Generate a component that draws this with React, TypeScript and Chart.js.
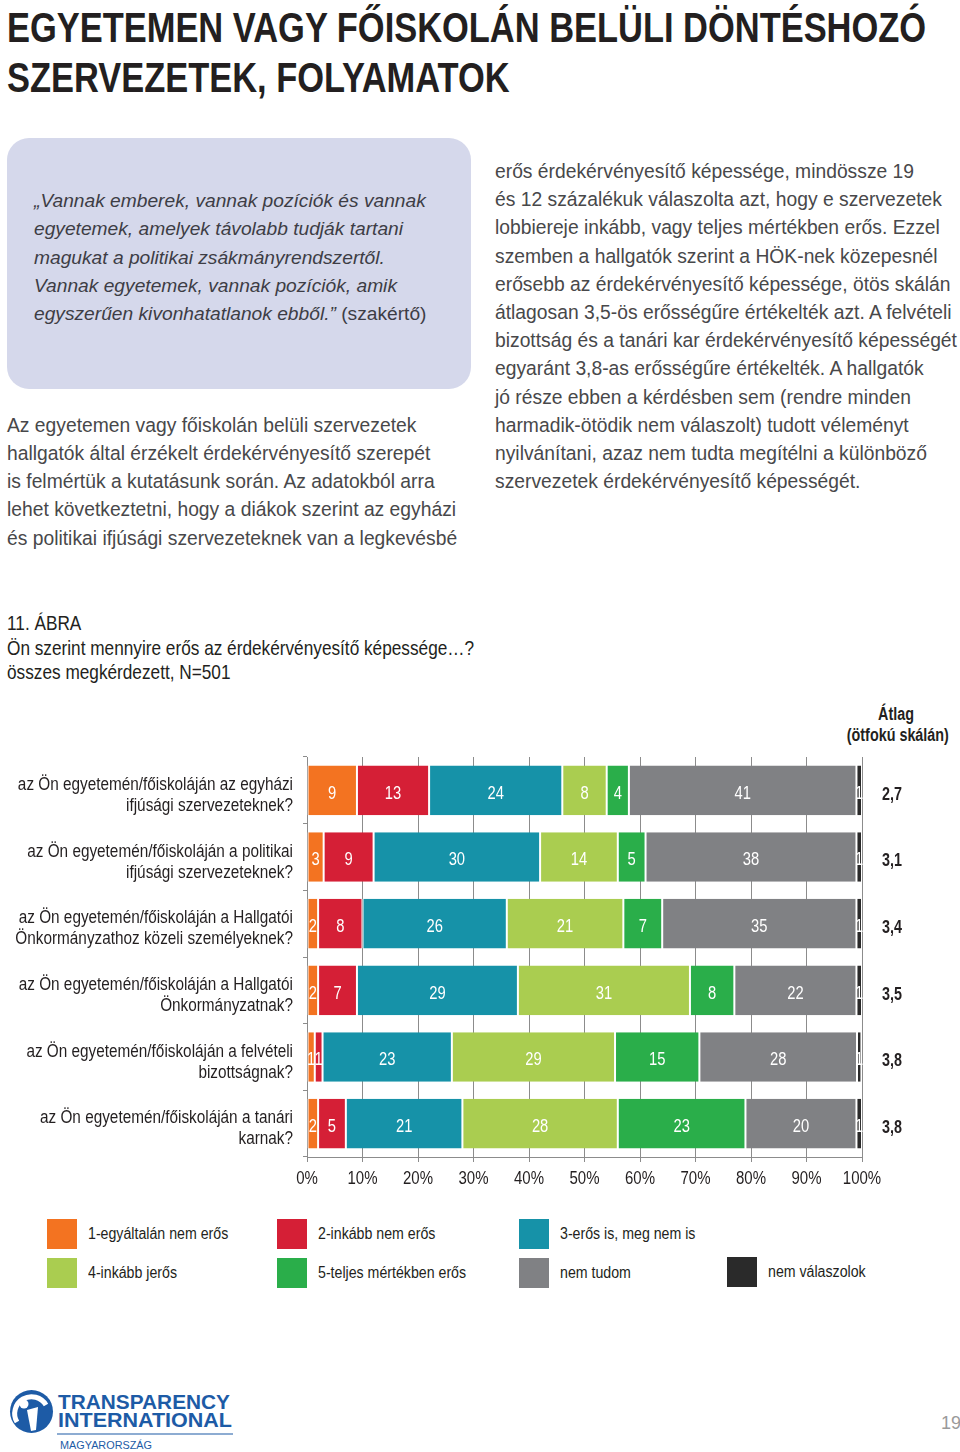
import React, { useEffect, useRef } from 'react';
import { Chart, registerables } from 'chart.js';

Chart.register(...registerables);

const SANS = '"Liberation Sans", Arial, Helvetica, sans-serif';
const NARROW_SCALE = 0.82;

// ---- chart data ----
const categories: string[][] = [
  ['az Ön egyetemén/főiskoláján az egyházi', 'ifjúsági szervezeteknek?'],
  ['az Ön egyetemén/főiskoláján a politikai', 'ifjúsági szervezeteknek?'],
  ['az Ön egyetemén/főiskoláján a Hallgatói', 'Önkormányzathoz közeli személyeknek?'],
  ['az Ön egyetemén/főiskoláján a Hallgatói', 'Önkormányzatnak?'],
  ['az Ön egyetemén/főiskoláján a felvételi', 'bizottságnak?'],
  ['az Ön egyetemén/főiskoláján a tanári', 'karnak?'],
];
const seriesNames = [
  '1-egyáltalán nem erős',
  '2-inkább nem erős',
  '3-erős is, meg nem is',
  '4-inkább jerős',
  '5-teljes mértékben erős',
  'nem tudom',
  'nem válaszolok',
];
const seriesColors = ['#f37321', '#d51f36', '#1692a8', '#aacd50', '#2aae4a', '#808184', '#2a2a2a'];
const s1 = [9, 3, 2, 2, 1.4, 2];
const s2 = [13, 9, 8, 7, 1.4, 5];
const s3 = [24, 30, 26, 29, 23.3, 21];
const s4 = [8, 14, 21, 31, 29.4, 28];
const s5 = [4, 5, 7, 8, 15.2, 23];
const s6 = [41, 38, 35, 22, 28.4, 20];
const s7 = [1, 1, 1, 1, 0.8, 1];
const seriesValues = [s1, s2, s3, s4, s5, s6, s7];
const averages = ['2,7', '3,1', '3,4', '3,5', '3,8', '3,8'];
const xTickValues = [0, 10, 20, 30, 40, 50, 60, 70, 80, 90, 100];
const xTickLabels = ['0%', '10%', '20%', '30%', '40%', '50%', '60%', '70%', '80%', '90%', '100%'];

// ---- page text ----
const titleLines = ['EGYETEMEN VAGY FŐISKOLÁN BELÜLI DÖNTÉSHOZÓ', 'SZERVEZETEK, FOLYAMATOK'];
const quoteLines = [
  '„Vannak emberek, vannak pozíciók és vannak',
  'egyetemek, amelyek távolabb tudják tartani',
  'magukat a politikai zsákmányrendszertől.',
  'Vannak egyetemek, vannak pozíciók, amik',
  'egyszerűen kivonhatatlanok ebből.”',
];
const quoteSource = ' (szakértő)';
const leftLines = [
  'Az egyetemen vagy főiskolán belüli szervezetek',
  'hallgatók által érzékelt érdekérvényesítő szerepét',
  'is felmértük a kutatásunk során. Az adatokból arra',
  'lehet következtetni, hogy a diákok szerint az egyházi',
  'és politikai ifjúsági szervezeteknek van a legkevésbé',
];
const rightLines = [
  'erős érdekérvényesítő képessége, mindössze 19',
  'és 12 százalékuk válaszolta azt, hogy e szervezetek',
  'lobbiereje inkább, vagy teljes mértékben erős. Ezzel',
  'szemben a hallgatók szerint a HÖK-nek közepesnél',
  'erősebb az érdekérvényesítő képessége, ötös skálán',
  'átlagosan 3,5-ös erősségűre értékelték azt. A felvételi',
  'bizottság és a tanári kar érdekérvényesítő képességét',
  'egyaránt 3,8-as erősségűre értékelték. A hallgatók',
  'jó része ebben a kérdésben sem (rendre minden',
  'harmadik-ötödik nem válaszolt) tudott véleményt',
  'nyilvánítani, azaz nem tudta megítélni a különböző',
  'szervezetek érdekérvényesítő képességét.',
];
const chartTitleLines = [
  '11. ÁBRA',
  'Ön szerint mennyire erős az érdekérvényesítő képessége…?',
  'összes megkérdezett, N=501',
];

function drawNarrow(ctx: CanvasRenderingContext2D, text: string, x: number, y: number, align: CanvasTextAlign, font: string) {
  ctx.save();
  ctx.translate(x, y);
  ctx.scale(NARROW_SCALE, 1);
  ctx.font = font;
  ctx.textAlign = align;
  ctx.textBaseline = 'middle';
  ctx.fillText(text, 0, 0);
  ctx.restore();
}

const textPlugin = {
  id: 'narrowText',
  afterDraw(chart: any) {
    const ctx = chart.ctx as CanvasRenderingContext2D;
    const xs = chart.scales.x;
    const ys = chart.scales.y;
    ctx.save();
    // values inside segments
    ctx.fillStyle = '#ffffff';
    chart.data.datasets.forEach((ds: any, di: number) => {
      const meta = chart.getDatasetMeta(di);
      meta.data.forEach((el: any, i: number) => {
        const p = el.getProps(['x', 'base', 'y'], true);
        const v = ds.data[i] as number;
        drawNarrow(ctx, String(Math.round(v)), (p.x + p.base) / 2, p.y + 3.5, 'center', `18px ${SANS}`);
      });
    });
    // category labels
    ctx.fillStyle = '#231f20';
    categories.forEach((lines, i) => {
      const cy = ys.getPixelForValue(i) + 5;
      const lh = 21;
      const start = cy - ((lines.length - 1) * lh) / 2;
      lines.forEach((l, j) => drawNarrow(ctx, l, ys.right - 14, start + j * lh, 'right', `18.7px ${SANS}`));
    });
    // x tick labels
    xTickValues.forEach((v, i) => {
      drawNarrow(ctx, xTickLabels[i], xs.getPixelForValue(v), xs.top + 22, 'center', `18.3px ${SANS}`);
    });
    // averages
    const meta0 = chart.getDatasetMeta(0);
    meta0.data.forEach((el: any, i: number) => {
      drawNarrow(ctx, averages[i], chart.chartArea.right + 20, el.y + 4.5, 'left', `bold 17.5px ${SANS}`);
    });
    ctx.restore();
  },
};

function StackedChart() {
  const ref = useRef<HTMLCanvasElement | null>(null);
  useEffect(() => {
    if (!ref.current) return;
    const chart = new Chart(ref.current, {
      type: 'bar',
      data: {
        labels: categories.map((c) => c.join(' ')),
        datasets: seriesValues.map((d, i) => ({
          label: seriesNames[i],
          data: d,
          backgroundColor: seriesColors[i],
          borderColor: '#ffffff',
          borderWidth: { left: 1, right: 1, top: 0, bottom: 0 },
          borderSkipped: false,
          categoryPercentage: 1,
          barPercentage: 0.745,
        })),
      },
      options: {
        indexAxis: 'y',
        animation: false,
        responsive: true,
        maintainAspectRatio: false,
        layout: { padding: { top: 57, right: 98, bottom: 0, left: 0 } },
        plugins: { legend: { display: false }, tooltip: { enabled: false } },
        scales: {
          x: {
            stacked: true,
            min: 0,
            max: 100,
            ticks: { stepSize: 10, display: false },
            grid: { color: '#8c8c8c', lineWidth: 1, drawTicks: true, tickLength: 5 },
            border: { display: true, color: '#8c8c8c' },
            afterFit: (s: any) => {
              s.height = 43;
            },
          },
          y: {
            stacked: true,
            ticks: { display: false },
            grid: { drawOnChartArea: false, drawTicks: true, tickLength: 4, color: '#8c8c8c', offset: true },
            border: { display: true, color: '#8c8c8c' },
            afterFit: (s: any) => {
              s.width = 307;
            },
          },
        },
      } as any,
      plugins: [textPlugin],
    });
    return () => chart.destroy();
  }, []);
  return (
    <div style={{ position: 'absolute', left: 0, top: 700, width: 960, height: 500 }}>
      <canvas ref={ref} />
    </div>
  );
}

function Lines(props: {
  lines: string[];
  left: number;
  top: number;
  lh: number;
  style: React.CSSProperties;
  tail?: React.ReactNode;
  sx?: number;
}) {
  const { lines, left, top, lh, style, tail, sx } = props;
  return (
    <div style={{ position: 'absolute', left, top, lineHeight: `${lh}px`, whiteSpace: 'nowrap', ...style }}>
      {lines.map((l, i) => (
        <div key={i} style={sx ? { transform: `scaleX(${sx})`, transformOrigin: 'left center' } : undefined}>
          {l}
          {i === lines.length - 1 ? tail : null}
        </div>
      ))}
    </div>
  );
}

const legendCols = [47, 277, 519, 727];
const legendPos = [
  [0, 1219], [1, 1219], [2, 1219],
  [0, 1258], [1, 1258], [2, 1258], [3, 1257],
];

function Legend() {
  return (
    <>
      {seriesNames.map((n, i) => {
        const [c, y] = legendPos[i];
        const x = legendCols[c];
        return (
          <React.Fragment key={i}>
            <div style={{ position: 'absolute', left: x, top: y, width: 30, height: 30, background: seriesColors[i] }} />
            <div
              style={{
                position: 'absolute',
                left: x + 41,
                top: y + 4,
                lineHeight: '20px',
                fontFamily: SANS,
                fontSize: 17.3,
                color: '#231f20',
                whiteSpace: 'nowrap',
                transform: `scaleX(${NARROW_SCALE})`,
                transformOrigin: 'left center',
              }}
            >
              {n}
            </div>
          </React.Fragment>
        );
      })}
    </>
  );
}

function Logo() {
  const blue = '#1d5ba6';
  return (
    <svg style={{ position: 'absolute', left: 0, top: 1380 }} width={250} height={72} viewBox="0 0 250 72">
      <circle cx={31.5} cy={31.5} r={21.5} fill={blue} />
      <path d="M 17 42 A 15 15 0 1 1 46 25" stroke="#fff" strokeWidth={5} fill="none" />
      <circle cx={24} cy={24} r={4.5} fill="#fff" />
      <path d="M 27 30 L 38 27 L 36 50 L 31 51 Z" fill="#fff" />
      <text x={58} y={28.5} fontFamily={SANS} fontWeight="bold" fontSize={19.5} fill={blue} textLength={172} lengthAdjust="spacingAndGlyphs">
        TRANSPARENCY
      </text>
      <text x={58} y={47} fontFamily={SANS} fontWeight="bold" fontSize={19.5} fill={blue} textLength={174} lengthAdjust="spacingAndGlyphs">
        INTERNATIONAL
      </text>
      <line x1={57} y1={54} x2={233} y2={54} stroke={blue} strokeWidth={1.2} />
      <text x={60} y={68.5} fontFamily={SANS} fontSize={11} fill={blue} textLength={92} lengthAdjust="spacingAndGlyphs">
        MAGYARORSZÁG
      </text>
    </svg>
  );
}

export default function App() {
  const bodyStyle: React.CSSProperties = { fontFamily: SANS, fontSize: 19.3, color: '#48484a' };
  return (
    <div style={{ position: 'absolute', left: 0, top: 0, width: 960, height: 1452, background: '#fff', overflow: 'hidden' }}>
      <Lines
        lines={titleLines}
        left={7}
        top={2.75}
        lh={50}
        sx={NARROW_SCALE}
        style={{ fontFamily: SANS, fontWeight: 'bold', fontSize: 42, color: '#231f20' }}
      />
      <div style={{ position: 'absolute', left: 7, top: 138, width: 464, height: 251, borderRadius: 22, background: '#d5d8eb' }} />
      <Lines
        lines={quoteLines}
        left={34}
        top={187}
        lh={28.3}
        style={{ fontFamily: SANS, fontSize: 19.2, fontStyle: 'italic', color: '#3d3d45' }}
        tail={<span style={{ fontStyle: 'normal' }}>{quoteSource}</span>}
      />
      <Lines lines={leftLines} left={7} top={411.5} lh={28.25} style={bodyStyle} />
      <Lines lines={rightLines} left={495} top={158} lh={28.2} style={bodyStyle} />
      <Lines
        lines={chartTitleLines}
        left={7}
        top={611}
        lh={24.5}
        sx={NARROW_SCALE}
        style={{ fontFamily: SANS, fontSize: 21, color: '#231f20' }}
      />
      <div
        style={{
          position: 'absolute',
          left: 836,
          top: 703.5,
          width: 120,
          textAlign: 'center',
          lineHeight: '21px',
          fontFamily: SANS,
          fontWeight: 'bold',
          fontSize: 17.5,
          color: '#231f20',
          whiteSpace: 'nowrap',
          transform: `scaleX(${NARROW_SCALE})`,
          transformOrigin: 'center center',
        }}
      >
        <div>Átlag</div>
        <div>(ötfokú skálán)</div>
      </div>
      <StackedChart />
      <Legend />
      <Logo />
      <div style={{ position: 'absolute', left: 941, top: 1412, lineHeight: '22px', fontFamily: SANS, fontSize: 18, color: '#9a9a9a' }}>
        19
      </div>
    </div>
  );
}
